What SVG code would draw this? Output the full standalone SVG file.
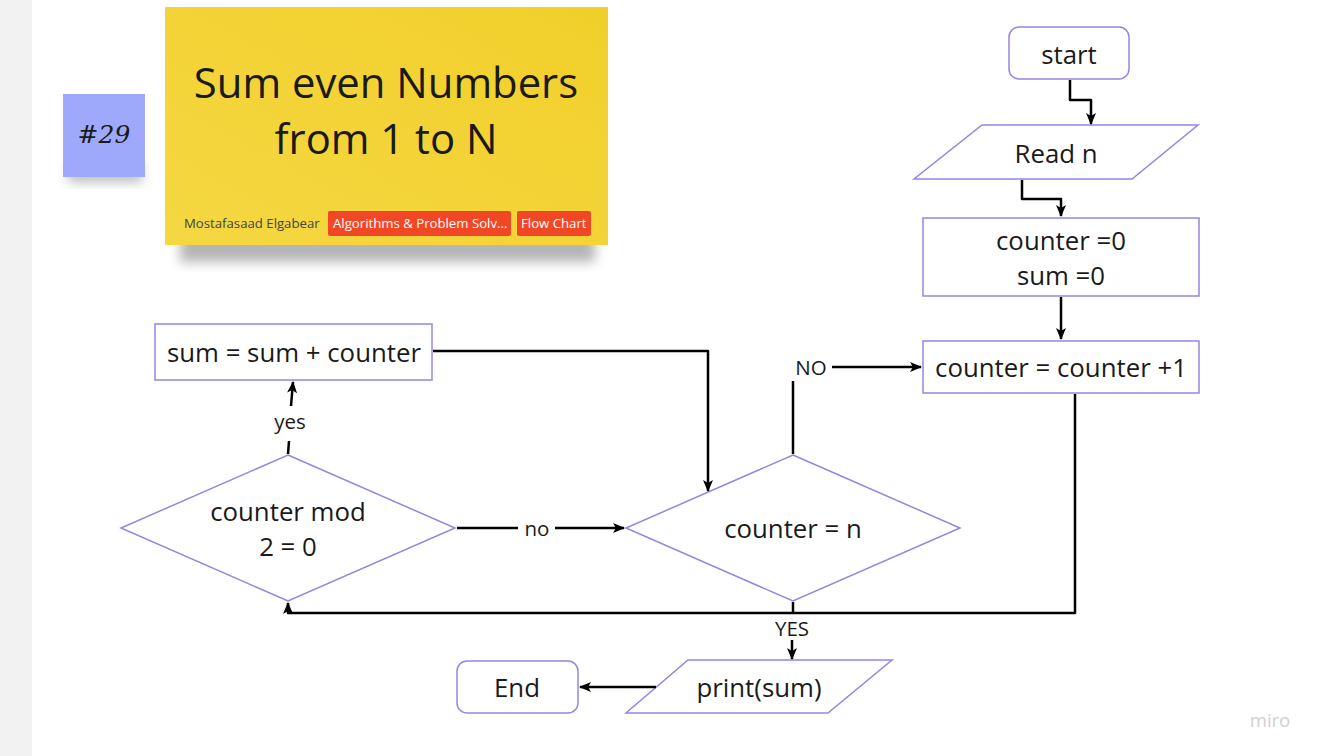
<svg xmlns="http://www.w3.org/2000/svg" width="1321" height="756" viewBox="0 0 1321 756">
<style>
.node{fill:#ffffff;stroke:#9a82e2;stroke-width:1.5}
.t{font-family:"Open Sans","Liberation Sans",sans-serif;font-size:25.8px;fill:#1a1a1a;text-anchor:middle;dominant-baseline:central}
.lbl{font-family:"Open Sans","Liberation Sans",sans-serif;font-size:20.5px;fill:#1a1a1a;text-anchor:middle;dominant-baseline:central}
.c{fill:none;stroke:#000;stroke-width:2.5;stroke-linejoin:round}
.tag{fill:#f24726}
.tagt{font-family:"Open Sans","Liberation Sans",sans-serif;font-size:13.2px;fill:#ffffff;dominant-baseline:central}
</style>
<defs>
<marker id="ah" markerUnits="userSpaceOnUse" markerWidth="12" markerHeight="12" viewBox="0 0 12 12" refX="11" refY="6" orient="auto">
<path d="M0,1 L12,6 L0,11 L3,6 Z" fill="#000"/>
</marker>
<filter id="sh" x="-20%" y="-20%" width="140%" height="160%">
<feGaussianBlur stdDeviation="6"/>
</filter>
<linearGradient id="yg" x1="0" y1="1" x2="1" y2="0">
<stop offset="0" stop-color="#f5d742"/>
<stop offset="1" stop-color="#f1cf2a"/>
</linearGradient>
</defs>
<rect width="1321" height="756" fill="#ffffff"/>
<rect x="0" y="0" width="32" height="756" fill="#f2f2f2"/>

<g id="sticky-num">
<rect x="68" y="166" width="74" height="16" fill="#555" opacity="0.4" filter="url(#sh)"/>
<rect x="63" y="94" width="82" height="83" fill="#9fa9fc"/>
<text x="104" y="134" font-family="'DejaVu Serif','Liberation Serif',serif" font-style="italic" font-size="25" fill="#1a1a1a" text-anchor="middle" dominant-baseline="central">#29</text>
</g>

<g id="sticky-title">
<rect x="180" y="236" width="415" height="26" fill="#444" opacity="0.4" filter="url(#sh)"/>
<rect x="165" y="7" width="443" height="238" fill="url(#yg)"/>
<text x="386" y="81" font-family="'Open Sans','Liberation Sans',sans-serif" font-size="41.8" fill="#1a1a1a" text-anchor="middle" dominant-baseline="central">Sum even Numbers</text>
<text x="386" y="137" font-family="'Open Sans','Liberation Sans',sans-serif" font-size="41.8" fill="#1a1a1a" text-anchor="middle" dominant-baseline="central">from 1 to N</text>
<text x="184" y="223" font-family="'Open Sans','Liberation Sans',sans-serif" font-size="13.2" fill="#444" dominant-baseline="central">Mostafasaad Elgabear</text>
<rect class="tag" x="328" y="211" width="183" height="25" rx="2"/>
<text class="tagt" x="333" y="223">Algorithms &amp; Problem Solv...</text>
<rect class="tag" x="517" y="211" width="74" height="25" rx="2"/>
<text class="tagt" x="521" y="223">Flow Chart</text>
</g>

<g id="start">
<rect class="node" x="1009" y="27" width="120" height="52" rx="10"/>
<text class="t" x="1069" y="54">start</text>
</g>
<g id="read-n">
<polygon class="node" points="982,125 1198,125 1132,179 914,179"/>
<text class="t" x="1056" y="153">Read n</text>
</g>
<g id="init">
<rect class="node" x="923" y="218" width="276" height="78"/>
<text class="t" x="1061" y="240">counter =0</text>
<text class="t" x="1061" y="275">sum =0</text>
</g>
<g id="inc">
<rect class="node" x="923" y="341" width="276" height="52"/>
<text class="t" x="1061" y="367">counter = counter +1</text>
</g>
<g id="cond-n">
<polygon class="node" points="793,455 960,528 793,601 626,528"/>
<text class="t" x="793" y="528">counter = n</text>
</g>
<g id="cond-mod">
<polygon class="node" points="288,455 455,528 288,601 121,528"/>
<text class="t" x="288" y="511">counter mod</text>
<text class="t" x="288" y="546">2 = 0</text>
</g>
<g id="sum-add">
<rect class="node" x="155" y="324" width="277" height="56"/>
<text class="t" x="294" y="352">sum = sum + counter</text>
</g>
<g id="print">
<polygon class="node" points="688,660 892,660 828,713 626,713"/>
<text class="t" x="759" y="687">print(sum)</text>
</g>
<g id="end">
<rect class="node" x="457" y="661" width="121" height="52" rx="10"/>
<text class="t" x="517" y="687">End</text>
</g>

<g id="connectors">
<path class="c" d="M1070,80 V100 H1091 V124" marker-end="url(#ah)"/>
<path class="c" d="M1022,180 V199 H1061 V216" marker-end="url(#ah)"/>
<path class="c" d="M1061,297 V339" marker-end="url(#ah)"/>
<path class="c" d="M793,454 V381"/>
<text class="lbl" x="811" y="367">NO</text>
<path class="c" d="M832,367 H921" marker-end="url(#ah)"/>
<path class="c" d="M1075,394 V613 H288 V603" marker-end="url(#ah)"/>
<path class="c" d="M288,454 L289,441"/>
<text class="lbl" x="290" y="421">yes</text>
<path class="c" d="M291,406 L293,382" marker-end="url(#ah)"/>
<path class="c" d="M433,351 H708 V491" marker-end="url(#ah)"/>
<path class="c" d="M457,528 H518"/>
<text class="lbl" x="537" y="528">no</text>
<path class="c" d="M555,528 H624" marker-end="url(#ah)"/>
<path class="c" d="M793,602 V613"/>
<text class="lbl" x="792" y="628">YES</text>
<path class="c" d="M792,640 V659" marker-end="url(#ah)"/>
<path class="c" d="M656,687 H580" marker-end="url(#ah)"/>
</g>

<text x="1270" y="719" font-family="'Open Sans','Liberation Sans',sans-serif" font-size="18.5" fill="#cfd0d8" text-anchor="middle" dominant-baseline="central">miro</text>
</svg>
